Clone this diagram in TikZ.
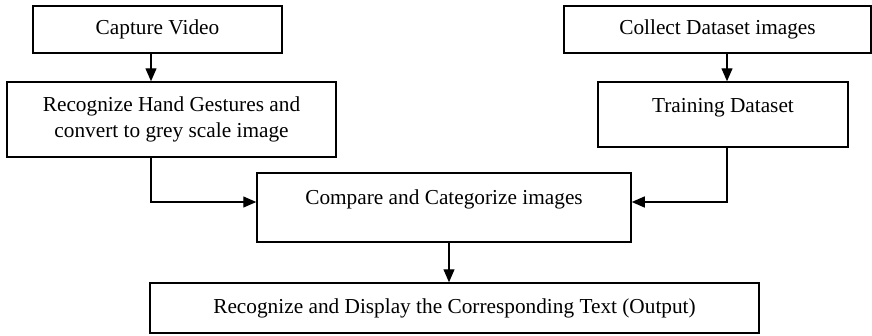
\documentclass[tikz,border=0pt]{standalone}
\usepackage{fontspec}
\setmainfont{Liberation Serif}
\usetikzlibrary{arrows.meta}
\begin{document}
\begin{tikzpicture}[x=1pt,y=-1pt,
  box/.style={draw=black, line width=1.5pt, rectangle, inner sep=0pt,
    align=center, font=\fontsize{21.3}{26.6}\selectfont},
  flow/.style={draw=black, line width=1.3pt,
    -{Triangle[length=13pt,width=11pt]}}]
\useasboundingbox (0,0) rectangle (872,335);

% process boxes
\node[box, minimum width=249pt, minimum height=47pt] (cap) at (157.5,29.5) {Capture Video};
\node[box, minimum width=307pt, minimum height=47pt] (col) at (717.5,29.5) {Collect Dataset images};
\node[box, minimum width=329pt, minimum height=75pt] (rec) at (171.5,119.5)
  {Recognize Hand Gestures and\\convert to grey scale image};
\node[box, minimum width=250pt, minimum height=65pt, text depth=18pt] (trn) at (723,114.5) {Training Dataset};
\node[box, minimum width=374pt, minimum height=69pt, text depth=21pt] (cmp) at (444,207.5) {Compare and Categorize images};
\node[box, minimum width=609pt, minimum height=50pt] (out) at (454.5,308)
  {Recognize and Display the Corresponding Text (Output)};

% connector guide positions
\coordinate (lx) at (151,0);
\coordinate (rx) at (727,0);
\coordinate (mx) at (449,0);
\coordinate (my) at (0,202);

% connectors
\draw[flow] (cap.south -| lx) -- (rec.north -| lx);
\draw[flow] (col.south -| rx) -- (trn.north -| rx);
\draw[flow] (rec.south -| lx) |- (cmp.west |- my);
\draw[flow] (trn.south -| rx) |- (cmp.east |- my);
\draw[flow] (cmp.south -| mx) -- (out.north -| mx);
\end{tikzpicture}
\end{document}
